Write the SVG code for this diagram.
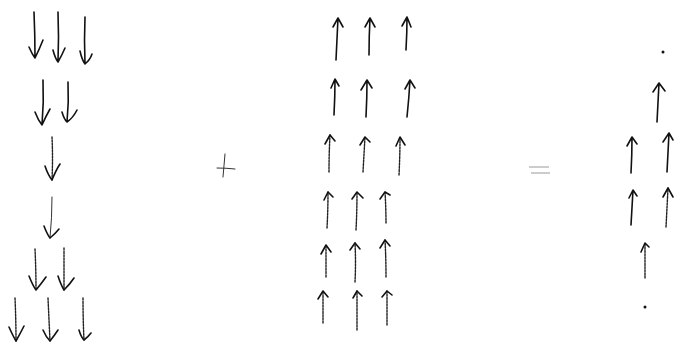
<svg xmlns="http://www.w3.org/2000/svg" width="674" height="344" viewBox="0 0 674 344">
<style>
.a{fill:none;stroke:#111;stroke-width:1.6;stroke-linecap:round;stroke-linejoin:round}
.d{fill:none;stroke:#222;stroke-width:1.4;stroke-linecap:round;stroke-dasharray:2 1.2}
.l{fill:none;stroke:#333;stroke-width:1;stroke-linecap:round}
.g{fill:none;stroke:#999;stroke-width:1}
</style>
<rect width="674" height="344" fill="#fff"/>
<g id="left">
<path class="a" d="M34,12 Q35,35 35,58 M29,47 Q32,54 35,58 Q39,50 43,40"/>
<path class="a" d="M58,12 Q59,37 58,62 M53,50 Q55,58 58,62 Q62,55 65,48"/>
<path class="a" d="M85,17 Q84,40 85,64 M80,51 Q82,60 85,64 Q90,60 92,54"/>
<path class="a" d="M43,80 Q44,102 42,125 M35,112 Q38,120 42,125 Q46,116 50,109"/>
<path class="a" d="M68,82 Q69,102 67,122 M62,112 Q64,119 67,122 Q73,118 77,110"/>
<path class="d" d="M52,137 Q53,158 52,180"/>
<path class="a" d="M45,166 Q48,175 52,180 Q56,170 60,164"/>
<path class="l" d="M52,197 Q52,218 50,238"/>
<path class="a" d="M44,226 Q47,234 50,238 Q55,234 59,229"/>
<path class="d" d="M35,249 Q36,270 36,290"/>
<path class="a" d="M29,276 Q33,286 36,290 Q41,284 46,277"/>
<path class="d" d="M64,248 Q64,270 64,290"/>
<path class="a" d="M58,276 Q61,285 64,290 Q70,284 74,278"/>
<path class="d" d="M15,298 Q16,320 16,341"/>
<path class="a" d="M9,327 Q13,336 16,341 Q20,334 24,326"/>
<path class="d" d="M48,298 Q49,320 50,341"/>
<path class="a" d="M43,330 Q46,337 50,341 Q54,336 58,330"/>
<path class="d" d="M83,298 Q83,320 84,340"/>
<path class="a" d="M79,330 Q81,337 84,340 Q88,337 91,333"/>
</g>
<g id="plus">
<path class="l" d="M225,154 Q224,166 223,177 M217,168 Q226,168 235,169"/>
</g>
<g id="middle">
<path class="a" d="M336,60 Q337,38 338,18 M333,27 L338,18 L343,27"/>
<path class="a" d="M369,55 Q369,36 370,18 M365,27 L370,18 L375,27"/>
<path class="a" d="M406,50 Q407,33 407,17 M402,26 L407,17 L411,27"/>
<path class="a" d="M334,115 Q335,96 335,79 M331,88 L335,79 L339,86"/>
<path class="a" d="M366,117 Q367,98 367,80 M361,90 L367,80 L372,88"/>
<path class="a" d="M407,117 Q409,98 410,80 M405,89 L410,80 L415,88"/>
<path class="d" d="M329,172 Q329,153 330,135"/>
<path class="a" d="M325,144 L330,135 L335,141"/>
<path class="d" d="M363,172 Q364,154 365,137"/>
<path class="a" d="M360,145 L365,137 L370,142"/>
<path class="d" d="M399,175 Q400,155 400,137"/>
<path class="a" d="M396,146 L400,137 L405,145"/>
<path class="d" d="M327,228 Q328,210 328,192"/>
<path class="a" d="M324,200 L328,192 L333,197"/>
<path class="d" d="M356,230 Q357,211 357,192"/>
<path class="a" d="M352,199 L357,192 L363,198"/>
<path class="d" d="M386,223 Q386,208 385,192"/>
<path class="a" d="M380,199 L385,192 L390,195"/>
<path class="d" d="M326,277 Q326,260 326,245"/>
<path class="a" d="M321,254 L326,245 L331,252"/>
<path class="d" d="M355,282 Q356,262 355,243"/>
<path class="a" d="M350,250 L355,243 L360,249"/>
<path class="d" d="M386,277 Q386,258 385,240"/>
<path class="a" d="M380,248 L385,240 L390,246"/>
<path class="d" d="M323,323 Q323,307 323,291"/>
<path class="a" d="M318,299 L323,291 L328,297"/>
<path class="d" d="M357,330 Q357,310 357,291"/>
<path class="a" d="M353,298 L357,291 L362,296"/>
<path class="d" d="M387,325 Q387,308 387,291"/>
<path class="a" d="M382,297 L387,291 L392,295"/>
</g>
<g id="equals">
<path class="g" d="M529,167 L549,167 M531,173 L550,173"/>
</g>
<g id="right">
<circle cx="663" cy="52" r="1.5" fill="#111"/>
<path class="a" d="M657,122 Q658,102 659,83 M653,92 L659,83 L665,91"/>
<path class="a" d="M631,173 Q632,155 632,137 M627,146 L632,137 L637,144"/>
<path class="a" d="M667,172 Q668,152 669,133 M663,142 L669,133 L673,140"/>
<path class="a" d="M631,225 Q632,207 633,190 M629,198 L633,190 L637,196"/>
<path class="d" d="M666,227 Q667,208 668,188"/>
<path class="a" d="M663,197 L668,188 L673,197"/>
<path class="d" d="M645,278 Q645,261 645,243"/>
<path class="a" d="M641,252 L645,243 L649,247"/>
<circle cx="645" cy="307" r="1.5" fill="#111"/>
</g>
</svg>
